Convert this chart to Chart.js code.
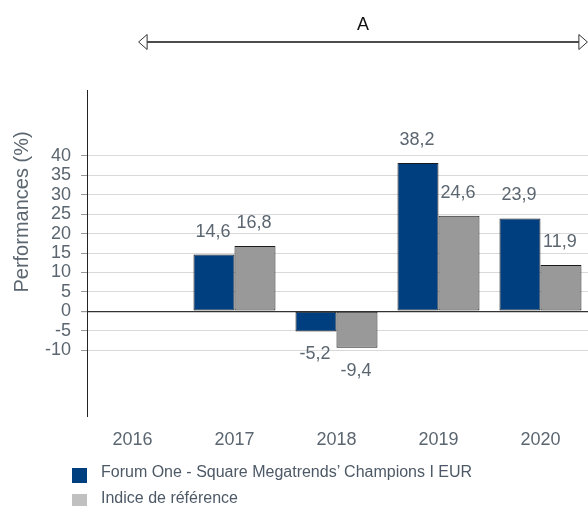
<!DOCTYPE html>
<html>
<head>
<meta charset="utf-8">
<script src="https://cdn.jsdelivr.net/npm/chart.js@4.4.1/dist/chart.umd.min.js"></script>
<style>
  html, body { margin: 0; padding: 0; background: #fff; overflow: hidden; }
  #wrap { position: relative; width: 588px; height: 506px; }
  #legend { position: absolute; left: 0; top: 0; font-family: "Liberation Sans", Arial, sans-serif; color: #4d5966; }
  .item { position: absolute; left: 72px; height: 16px; white-space: nowrap; }
  .box { position: absolute; left: 0; top: 4px; width: 15px; height: 15px; }
  .txt { position: absolute; left: 29px; top: 0; font-size: 16px; line-height: 16px; }
</style>
</head>
<body>
<div id="wrap">
  <canvas id="chart" width="588" height="506"></canvas>
  <div id="legend"></div>
</div>
<script>
// data
var years = [2016, 2017, 2018, 2019, 2020];
var fundYears = [2017, 2018, 2019, 2020];
var fundValues = [14.6, -5.2, 38.2, 23.9];
var indexValues = [16.8, -9.4, 24.6, 11.9];
var yTicks = [-10, -5, 0, 5, 10, 15, 20, 25, 30, 35, 40];
var seriesNames = ["Forum One - Square Megatrends\u2019 Champions I EUR", "Indice de r\u00e9f\u00e9rence"];
var arrowSpan = [2016.06, 2020.46];
var arrowLabel = "A";

var blue = '#003f7f';
var grey = '#999999';
var legendColors = [blue, '#c0c0c0'];
var textColor = '#5b6670';
var font = '"Liberation Sans", Arial, sans-serif';

function pts(values) {
	return values.map(function (v, i) { return { x: fundYears[i], y: v }; });
}

var valueLabels = {
	id: 'valueLabels',
	afterDatasetsDraw: function (chart) {
		var ctx = chart.ctx;
		ctx.save();
		ctx.font = '18px ' + font;
		ctx.fillStyle = textColor;
		ctx.textAlign = 'center';
		ctx.textBaseline = 'middle';
		chart.data.datasets.forEach(function (ds, i) {
			chart.getDatasetMeta(i).data.forEach(function (bar, j) {
				var v = ds.data[j].y;
				var y = v >= 0 ? bar.y - 23 : bar.y + 23;
				ctx.fillText(v.toFixed(1).replace('.', ','), bar.x - 1, y);
			});
		});
		ctx.restore();
	}
};

var extras = {
	id: 'extras',
	afterDraw: function (chart) {
		var ctx = chart.ctx, xs = chart.scales.x;
		var x0 = xs.getPixelForValue(arrowSpan[0]);
		var x1 = xs.getPixelForValue(arrowSpan[1]);
		var y = 42, hl = 8.5, hh = 7.5;
		ctx.save();
		// arrow line
		ctx.strokeStyle = '#111';
		ctx.lineWidth = 1.5;
		ctx.beginPath();
		ctx.moveTo(x0 + hl, y);
		ctx.lineTo(x1 - hl, y);
		ctx.stroke();
		// open heads
		ctx.lineWidth = 1;
		ctx.strokeStyle = '#333';
		ctx.fillStyle = '#fff';
		ctx.beginPath();
		ctx.moveTo(x0, y);
		ctx.lineTo(x0 + hl, y - hh);
		ctx.lineTo(x0 + hl, y + hh);
		ctx.closePath();
		ctx.fill(); ctx.stroke();
		ctx.beginPath();
		ctx.moveTo(x1, y);
		ctx.lineTo(x1 - hl, y - hh);
		ctx.lineTo(x1 - hl, y + hh);
		ctx.closePath();
		ctx.fill(); ctx.stroke();
		// label
		ctx.fillStyle = '#111';
		ctx.font = '18px ' + font;
		ctx.textAlign = 'center';
		ctx.textBaseline = 'alphabetic';
		ctx.fillText(arrowLabel, (x0 + x1) / 2, 29.5);
		// y title
		ctx.translate(22.5, 212);
		ctx.rotate(-Math.PI / 2);
		ctx.fillStyle = textColor;
		ctx.font = '20px ' + font;
		ctx.textBaseline = 'middle';
		ctx.fillText('Performances (%)', 0, 0);
		ctx.restore();
	}
};

var ctx = document.getElementById('chart').getContext('2d');
var chart = new Chart(ctx, {
	type: 'bar',
	data: {
		datasets: [
			{ label: seriesNames[0], data: pts(fundValues), backgroundColor: blue },
			{ label: seriesNames[1], data: pts(indexValues), backgroundColor: grey }
		]
	},
	options: {
		responsive: false,
		animation: false,
		layout: { padding: { top: 90, left: 0, right: 0, bottom: 55 } },
		datasets: {
			bar: {
				borderColor: '#1a1a1a',
				borderWidth: 1,
				borderSkipped: false,
				categoryPercentage: 0.804,
				barPercentage: 1
			}
		},
		plugins: {
			legend: { display: false },
			tooltip: { enabled: false }
		},
		scales: {
			x: {
				type: 'linear',
				offset: false,
				min: 2015.554,
				max: 2020.466,
				grid: { display: false, drawTicks: false },
				border: { display: false },
				afterBuildTicks: function (s) { s.ticks = years.map(function (v) { return { value: v }; }); },
				afterFit: function (s) { s.height = 35; },
				ticks: {
					padding: 13,
					color: textColor,
					font: { family: font, size: 18 },
					autoSkip: false,
					maxRotation: 0,
					callback: function (v) { return String(v); }
				}
			},
			y: {
				min: -27,
				max: 57,
				afterBuildTicks: function (s) { s.ticks = yTicks.map(function (v) { return { value: v }; }); },
				afterFit: function (s) { s.width = 87; },
				border: { display: true, color: '#222', width: 1 },
				grid: {
					color: function (c) { return c.tick && c.tick.value === 0 ? '#333' : '#d9d9d9'; },
					lineWidth: function (c) { return c.tick && c.tick.value === 0 ? 1.2 : 1; },
					tickLength: 6,
					tickColor: '#999'
				},
				ticks: {
					padding: 10,
					color: textColor,
					font: { family: font, size: 18 },
					autoSkip: false,
					callback: function (v) { return String(v); }
				}
			}
		}
	},
	plugins: [valueLabels, extras]
});

// legend
var legend = document.getElementById('legend');
chart.data.datasets.forEach(function (ds, i) {
	var item = document.createElement('div');
	item.className = 'item';
	item.style.top = (464 + i * 26) + 'px';
	item.innerHTML = '<span class="box" style="background:' + legendColors[i] + '"></span><span class="txt"></span>';
	item.querySelector('.txt').textContent = ds.label;
	legend.appendChild(item);
});
</script>
</body>
</html>
